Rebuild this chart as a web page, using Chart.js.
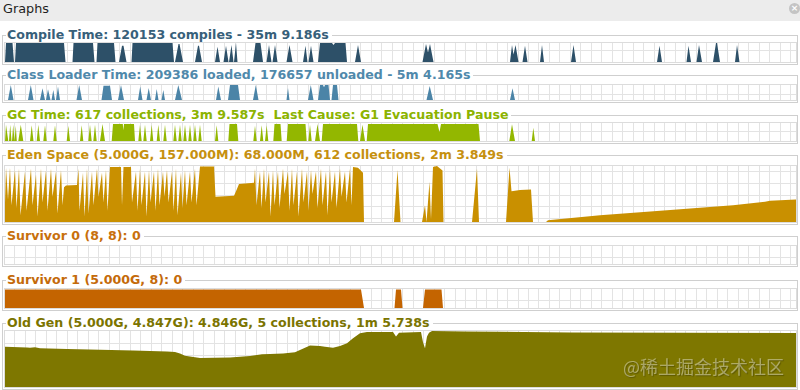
<!DOCTYPE html>
<html><head><meta charset="utf-8">
<script src="https://cdn.jsdelivr.net/npm/chart.js@4.4.1/dist/chart.umd.min.js"></script>
<style>
html,body{margin:0;padding:0;}
body{width:800px;height:390px;overflow:hidden;position:relative;background:#fff;font-family:"DejaVu Sans",sans-serif;}
#hdr{position:absolute;left:0;top:0;width:800px;height:21px;background:#ececec;}
#hdr span{position:absolute;left:3px;top:1px;font-size:12.8px;line-height:16px;color:#1e1e1e;}
#close{position:absolute;left:789px;top:3px;width:11px;height:11px;border-radius:50%;background:#c4c4c4;color:#fff;font-size:9px;line-height:11px;text-align:center;font-weight:bold;}
.box{position:absolute;left:2px;width:796px;border:1px solid #cfcfcf;box-sizing:border-box;}
.ttl{position:absolute;left:6px;background:#fff;padding:0 3px 0 1px;font-weight:bold;font-size:12.6px;line-height:14px;white-space:nowrap;z-index:5;}
.plot{position:absolute;left:4px;width:793px;border:1px solid #dcdcdc;box-sizing:border-box;}
canvas{position:absolute;left:5px;}
#wm{position:absolute;left:623px;top:355px;z-index:10;font-family:"Noto Sans CJK SC",sans-serif;font-size:18px;line-height:22px;color:rgba(255,255,255,0.40);text-shadow:1px 1px 1px rgba(0,0,0,0.25);white-space:nowrap;}
</style></head>
<body>
<div id="hdr"><span>Graphs</span><div id="close">×</div></div>
<script>
// ---- titles ----
const titles = [
  "Compile Time: 120153 compiles - 35m 9.186s",
  "Class Loader Time: 209386 loaded, 176657 unloaded - 5m 4.165s",
  "GC Time: 617 collections, 3m 9.587s\u00a0\u00a0Last Cause: G1 Evacuation Pause",
  "Eden Space (5.000G, 157.000M): 68.000M, 612 collections, 2m 3.849s",
  "Survivor 0 (8, 8): 0",
  "Survivor 1 (5.000G, 8): 0",
  "Old Gen (5.000G, 4.847G): 4.846G, 5 collections, 1m 5.738s"
];

// ---- series: [time sample, fraction of panel max] ----
const compileTime = [[5,0],[6,1],[12.5,1],[14,0],[15,0],[16,1],[64,1],[65.5,0],[72.5,0],[73.5,1],[93,1],[94.5,0],
 [96.5,0],[97.5,1],[114,1],[115.5,0],[119,0],[122,0.85],[123.5,0.85],[126.5,0],[131.5,0],[132.5,1],[172.5,1],[174,0],
 [175,0],[178.5,0.95],[179.5,0.95],[183,0],[195,0],[198,0.85],[199,0.85],[202,0],[215,0],[217.5,0.8],[220,0],
 [223.5,0],[226,0.85],[228.5,0],[229,0],[231.5,0.9],[233.5,0],[234,0],[236,1],[237.5,0],[253,0],[255.5,1],[260.5,1],[263,0],
 [266.5,0],[269,0.9],[271.5,0],[272.5,0],[275,0.9],[277.5,0],[286.5,0],[289.5,0.9],[292.5,0],[303,0],[305.5,0.85],[307.5,0],
 [308.5,0],[311,0.85],[313.5,0],[318,0],[320,1],[332,1],[333.5,0.9],[335,1],[345.5,1],[347,0],[355,0],[358,0.9],[361,0],
 [422.5,0],[426,0.95],[428,0.5],[430,0.95],[433.5,0],[510,0],[512,0.9],[513.5,0.4],[515.5,0.9],[518.5,0],
 [522.5,0],[525,0.85],[527.5,0],[540,0],[542,0.9],[544,0],[571,0],[573.5,0.9],[576,0],[657,0],[659.5,0.85],[662,0],
 [686.5,0],[688.5,0.85],[691,0],[696.5,0],[699,0.9],[702,0],[713,0],[716,1],[717,1],[720,0],[735,0],[737,0.9],[739.5,0],[796,0]];

const classLoaderTime = [[5,0],[8,0],[10.8,1],[13.5,0],[28,0],[30.8,1],[33.5,0],[40,0],[42.5,0.78],[45,0],[46,0],[48,0.72],[50.5,0],
 [51.5,0],[53.3,0.67],[55,0],[56,0],[58,0.9],[60,0],[76.5,0],[79.2,1],[82,0],[101.5,0],[103.5,0.95],[110,0.95],[112,0],
 [118,0],[121,1],[124,0],[138,0],[140.2,0.9],[142.5,0],[146.5,0],[148.7,0.8],[151,0],[155,0],[156.7,0.73],[158.5,0],
 [161.5,0],[163.3,0.67],[165,0],[175,0],[178.3,1],[182,0],[216,0],[218.3,0.9],[221,0],[228,0],[230,1],[238,1],[240,0],
 [253,0],[255.8,1],[258.5,0],[286.5,0],[288,0.8],[289.5,0],[308,0],[310.8,1],[313.5,0],
 [318,0],[320,1],[323,1],[324,0.85],[325,1],[328.5,1],[330,0],[331.5,0],[333,1],[337,1],[338.5,0],
 [426.5,0],[429.7,0.93],[433,0],[510,0],[512.5,0.78],[515,0],[796,0]];

const gcTime = [[5,0],[6,0.9],[8.3,0],[9,0],[10.2,0.9],[11.5,0],[12,0],[13.2,0.9],[14.5,0],[14.8,0],[15.8,0.85],[16.8,0],
 [18.3,0],[20.8,0.9],[23.3,0],[30,0],[31.7,0.88],[33.5,0],[36.7,0],[38.3,0.9],[40,0],[43.3,0],[45,0.88],[46.7,0],
 [53.3,0],[55,0.88],[56.7,0],[66.7,0],[68.3,0.85],[70,0],[80,0],[81.7,0.88],[83.3,0],[88.3,0],[90,0.9],[91.7,0],
 [93.3,0],[95,0.9],[96.7,0],[100,0],[102.5,0.95],[105,0],
 [111.7,0],[113,0.95],[122.8,0.95],[123.3,0.6],[124,0.95],[134,0.95],[135,0],
 [138.3,0],[140,0.9],[141.7,0],[143.3,0],[145,0.9],[146.7,0],[150,0],[151.7,0.9],[153.3,0],[156.7,0],[158.3,0.9],[160,0],
 [163.3,0],[165,0.9],[166.7,0],[173.3,0],[175,0.9],[176.7,0],[178.3,0],[180,0.9],[181.7,0],[183.3,0],[185,0.9],[186.7,0],
 [188.3,0],[190,0.9],[191.7,0],[193.3,0],[195,0.9],[196.7,0],[198.3,0],[200,0.9],[201.7,0],[215,0],[216.7,0.88],[218.3,0],
 [228.3,0],[229.5,0.95],[237,0.95],[238.3,0],[253.3,0],[255,0.85],[256.7,0],[260,0],[261.7,0.88],[263.3,0],
 [265,0],[266.7,0.88],[268.3,0],[273.3,0],[274.5,0.95],[280.5,0.95],[281.7,0],[286.7,0],[288,0.95],[305.5,0.95],[306.7,0],
 [308.3,0],[310,0.9],[311.7,0],[315,0],[317.5,0.95],[320,0],[321.7,0],[323,0.95],[357,0.95],[358.3,0],
 [360,0],[362.5,0.9],[365,0],[366.7,0],[368,0.95],[437.5,0.95],[439.5,0.5],[441,0.95],[478.5,0.95],[480,0],
 [509.3,0],[512,0.93],[515,0],[531.7,0],[533.3,0.74],[535,0],[796,0]];

const edenSpace = [[5,0.35],[6,0.97],[8,0.4],[10,0.97],[11.5,0.3],[15,0.93],[16.5,0.25],[19,0.95],[20.5,0.12],
 [25,0.9],[26.5,0.2],[31,0.95],[32.5,0.3],[36,0.85],[37.5,0.1],[41,0.95],[42.5,0.35],[46,0.92],[47.5,0.2],[51,0.95],[52.5,0.45],
 [56,0.9],[57.5,0.15],[61,0.93],[62.5,0.3],[64,0.62],[66,0.65],[77,0.66],[78.5,0.95],[79.5,0.2],
 [83,0.88],[84.5,0.1],[87,0.95],[88.5,0.15],[92,0.9],[93.5,0.3],[97,0.95],[98.5,0.45],[102,0.88],[103.5,0.35],[106,0.93],[107.5,0.2],
 [110,0.98],[121,0.98],[122,0.3],[123.5,0.98],[131,0.98],[132,0.35],
 [136,0.9],[137.5,0.2],[140,0.95],[141.5,0.3],[145,0.9],[146.5,0.1],[149,0.93],[150.5,0.35],[154,0.9],[155.5,0.2],[158,0.95],[159.5,0.3],
 [163,0.9],[164.5,0.45],[167,0.93],[168.5,0.35],[172,0.9],[173.5,0.2],[176,0.95],[177.5,0.12],[181,0.88],[182.5,0.25],[185,0.93],[186.5,0.3],
 [190,0.9],[191.5,0.35],[195,0.95],[196.5,0.3],
 [200,0.99],[214,0.99],[215.5,0.45],[234,0.47],[236,0.55],[239,0.68],[254,0.7],[255,0.95],[256.5,0.3],
 [260,0.9],[261.5,0.25],[264,0.95],[265.5,0.35],[269,0.9],[270.5,0.1],[273,0.93],[274.5,0.3],[278,0.9],[279.5,0.25],[283,0.95],[284.5,0.5],
 [288,0.9],[289.5,0.2],[292,0.95],[293.5,0.3],[297,0.9],[298.5,0.1],[302,0.95],[303.5,0.35],[307,0.9],[308.5,0.2],[311,0.93],[312.5,0.5],
 [316,0.9],[317.5,0.25],[321,0.95],[322.5,0.3],[326,0.9],[327.5,0.12],[330,0.95],[331.5,0.35],[335,0.9],[336.5,0.25],[340,0.95],[341.5,0.45],
 [345,0.9],[346.5,0.35],[350,0.95],[351.5,0.3],[353,0.98],[358,0.97],[363,0.88],[364,0],
 [394,0],[397.5,0.93],[400.5,0],
 [422,0],[425,0.3],[426.5,0],[429.5,0.72],[431,0.05],[433,0.98],[437,1],[442.5,0.92],[443.5,0],
 [472,0],[477,0.95],[479,0],[506,0],[509.5,0.97],[511.5,0.55],[520,0.57],[531,0.58],[533,0],
 [546,0],[548,0.03],[600,0.12],[667,0.21],[733,0.3],[765,0.36],[770,0.38],[796,0.4]];

const survivor0 = [[5,0],[796,0]];

const survivor1 = [[5,0.97],[361,0.97],[364,0],[394.5,0],[396,0.97],[401,0.97],[402.5,0],[423,0],[425,0.97],[441.5,0.97],[443,0],[796,0]];

const oldGen = [[5,0.72],[27,0.705],[30,0.7],[35,0.71],[40,0.69],[67,0.68],[100,0.665],[133,0.65],[167,0.635],[175,0.625],
 [180,0.6],[185,0.56],[195,0.53],[200,0.52],[230,0.525],[240,0.54],[250,0.555],[262,0.585],[270,0.59],[283,0.6],[295,0.62],
 [300,0.66],[305,0.7],[310,0.74],[320,0.73],[325,0.72],[333,0.7],[340,0.73],[347,0.78],[353,0.87],[360,0.96],[367,0.98],
 [393,0.98],[396,0.9],[399,0.97],[421,0.98],[423,0.8],[425,0.69],[427,0.9],[429,0.97],[432,1.0],[466,0.99],[500,0.985],
 [570,0.975],[796,0.965]];

const series = [compileTime, classLoaderTime, gcTime, edenSpace, survivor0, survivor1, oldGen];

// ---- layout / style ----
const styles = [
  {text:'#37607a', fill:'#2d5068', top:35,  pTop:43,  pBot:62,  hgrid:[0.58]},
  {text:'#5089ab', fill:'#4b84a7', top:75,  pTop:85,  pBot:100, hgrid:[0.4]},
  {text:'#8cb300', fill:'#93b700', top:115, pTop:123, pBot:141, hgrid:[0.52]},
  {text:'#c6900f', fill:'#c99000', top:155, pTop:166, pBot:222, hgrid:[0.066,0.27,0.48,0.69,0.898]},
  {text:'#c8700c', fill:'#c46400', top:236, pTop:246, pBot:264, hgrid:[0.34]},
  {text:'#c46a0a', fill:'#c46400', top:280, pTop:289, pBot:308, hgrid:[0.37]},
  {text:'#7b7400', fill:'#7e7700', top:323, pTop:331, pBot:387, hgrid:[0.155,0.36,0.57,0.78]}
];
const X_MIN = 5, X_MAX = 796, GRID_START = 4.5, GRID_STEP = 10.48;

styles.forEach((s, i) => {
  const box = document.createElement('div');
  box.className = 'box';
  box.style.top = s.top + 'px';
  box.style.height = (s.pBot + 3 - s.top) + 'px';
  document.body.appendChild(box);

  const plot = document.createElement('div');
  plot.className = 'plot';
  plot.style.top = (s.pTop - 1) + 'px';
  plot.style.height = (s.pBot - s.pTop + 2) + 'px';
  document.body.appendChild(plot);

  const t = document.createElement('div');
  t.className = 'ttl';
  t.style.top = (s.top - 7) + 'px';
  t.style.color = s.text;
  t.textContent = titles[i];
  document.body.appendChild(t);

  const c = document.createElement('canvas');
  const w = X_MAX - X_MIN, h = s.pBot - s.pTop;
  c.width = w; c.height = h;
  c.style.width = w + 'px'; c.style.height = h + 'px';
  c.style.top = s.pTop + 'px';
  document.body.appendChild(c);

  new Chart(c, {
    type: 'line',
    data: { datasets: [{
      data: series[i],
      backgroundColor: s.fill,
      borderColor: s.fill,
      borderWidth: 0,
      fill: 'start',
      pointRadius: 0,
      tension: 0
    }]},
    options: {
      responsive: false, animation: false, devicePixelRatio: 1,
      layout: { padding: 0, autoPadding: false },
      plugins: { legend: { display: false }, tooltip: { enabled: false } },
      scales: {
        x: { type: 'linear', min: X_MIN, max: X_MAX,
             ticks: { display: false },
             grid: { color: '#e3e3e3', drawTicks: false },
             border: { display: false },
             afterBuildTicks: ax => {
               const t = [];
               for (let k = 1; GRID_START + k * GRID_STEP < X_MAX - 2; k++) t.push({ value: GRID_START + k * GRID_STEP });
               ax.ticks = t;
             } },
        y: { type: 'linear', min: 0, max: 1,
             ticks: { display: false },
             grid: { color: '#e3e3e3', drawTicks: false },
             border: { display: false },
             afterBuildTicks: ax => { ax.ticks = s.hgrid.map(v => ({ value: v })); } }
      }
    }
  });
});

const wm = document.createElement('div');
wm.id = 'wm';
wm.textContent = '@稀土掘金技术社区';
document.body.appendChild(wm);
</script>
</body></html>
